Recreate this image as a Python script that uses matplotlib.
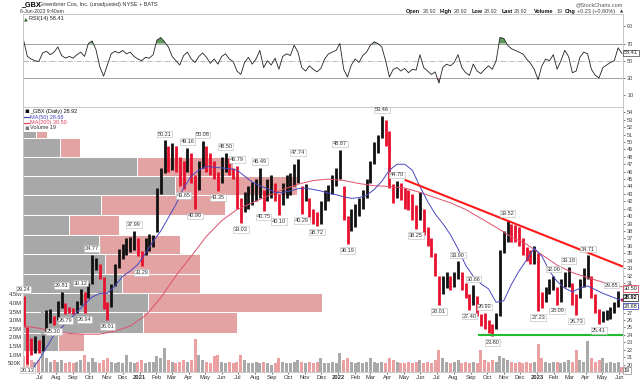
import numpy as np
import pandas as pd
import matplotlib
matplotlib.use("Agg")
import matplotlib.pyplot as plt

plt.rcParams['font.family'] = ['Liberation Sans', 'DejaVu Sans']

# ---------------- data (weekly bars) ----------------
week_high = [29.24, 25.0, 23.6, 23.8, 23.3, 24.0, 27.3, 27.5, 26.6, 28.6,
             29.81, 28.3, 27.8, 27.6, 28.6, 30.12, 29.8, 31.0, 34.77, 34.4,
             33.6, 31.8, 28.5, 30.8, 33.5, 35.6, 36.3, 37.0, 37.2, 37.99,
             37.0, 35.3, 37.0, 37.6, 37.5, 43.8, 46.5, 50.21, 49.4, 49.8,
             49.5, 48.0, 47.5, 49.16, 48.5, 45.5, 47.5, 50.08, 49.4, 48.5,
             47.5, 46.0, 48.0, 48.50, 47.8, 46.5, 46.79, 42.5, 43.3, 44.0,
             44.6, 45.0, 46.49, 43.5, 45.0, 45.5, 44.5, 43.0, 44.5, 45.5,
             45.8, 47.0, 47.74, 44.0, 44.3, 42.5, 41.0, 40.5, 42.0, 43.5,
             44.2, 45.5, 46.5, 48.87, 44.0, 40.0, 41.0, 41.6, 42.5, 43.5,
             45.0, 47.5, 50.0, 51.0, 53.46, 53.0, 51.5, 44.3, 44.70, 44.5,
             43.8, 43.5, 43.0, 41.5, 43.2, 41.0, 38.5, 37.0, 35.0, 32.0,
             32.0, 32.5, 32.0, 32.5, 33.90, 32.5, 31.0, 29.5, 30.66, 29.3,
             26.8, 26.90, 26.0, 25.5, 27.0, 35.5, 38.0, 39.52, 39.0, 38.8,
             38.5, 37.0, 35.8, 35.5, 36.0, 35.0, 29.8, 30.5, 31.5, 32.00,
             30.5, 31.5, 32.5, 33.18, 31.0, 29.5, 31.5, 33.0, 34.71, 32.0,
             29.5, 27.5, 27.2, 27.3, 27.8, 28.5, 29.85, 29.0]
week_low = [25.0, 20.13, 21.3, 21.5, 21.6, 21.8, 24.5, 25.6, 25.30, 26.0,
            27.6, 26.79, 26.9, 26.85, 27.0, 28.0, 26.94, 29.0, 30.8, 32.8,
            31.5, 27.5, 26.01, 27.8, 30.6, 33.0, 34.2, 34.8, 35.2, 35.5,
            34.6, 33.29, 34.8, 35.3, 35.8, 37.8, 43.0, 45.8, 46.0, 46.2,
            46.0, 44.0, 43.65, 46.0, 44.5, 40.90, 43.5, 46.5, 46.0, 45.5,
            45.0, 43.35, 44.5, 46.0, 45.5, 45.0, 41.0, 39.03, 40.5, 41.0,
            41.5, 42.0, 42.5, 40.75, 42.0, 42.5, 42.0, 40.10, 41.5, 42.5,
            42.8, 44.0, 44.5, 40.29, 42.0, 39.5, 39.0, 38.72, 39.0, 40.8,
            42.0, 43.0, 44.0, 45.0, 39.5, 36.19, 38.0, 38.5, 40.0, 41.0,
            42.5, 44.5, 47.0, 48.5, 50.5, 49.5, 43.8, 41.8, 42.5, 42.2,
            41.0, 40.8, 39.5, 38.25, 39.5, 37.5, 36.0, 34.5, 32.0, 28.01,
            29.5, 30.3, 30.0, 30.5, 31.5, 30.0, 29.0, 27.40, 28.0, 26.6,
            25.2, 24.8, 24.3, 23.80, 24.8, 26.5, 35.0, 36.5, 36.5, 36.5,
            36.0, 34.8, 34.0, 33.5, 33.5, 27.23, 27.6, 28.5, 29.5, 30.0,
            28.09, 28.5, 30.5, 30.5, 28.0, 26.73, 29.0, 30.5, 31.5, 29.0,
            27.0, 25.41, 25.8, 26.0, 26.2, 27.0, 27.8, 28.6]
volume_m = [0.9, 0.8, 0.7, 0.6, 0.7, 4.3, 0.8, 0.6, 0.7, 0.6,
            0.7, 0.5, 0.6, 0.5, 0.6, 0.7, 1.0, 0.6, 0.8, 0.6,
            0.5, 0.7, 0.8, 0.6, 0.5, 0.6, 0.5, 1.0, 0.6, 0.5,
            0.6, 0.7, 0.5, 0.6, 0.6, 0.9, 0.8, 1.4, 0.7, 0.6,
            0.5, 0.6, 0.7, 0.6, 0.7, 1.9, 1.0, 0.7, 0.6, 0.5,
            0.9, 1.0, 0.6, 0.5, 0.6, 0.5, 0.6, 1.0, 0.7, 0.5,
            0.5, 0.6, 0.5, 0.6, 0.5, 0.4, 0.5, 0.8, 0.6, 0.5,
            0.5, 0.6, 0.7, 0.6, 0.5, 0.6, 0.5, 0.6, 0.8, 0.5,
            0.5, 0.6, 0.5, 1.1, 0.7, 0.8, 0.6, 0.5, 0.6, 0.5,
            0.6, 0.8, 0.6, 0.5, 0.6, 0.5, 0.8, 0.7, 0.6, 0.5,
            0.5, 0.6, 0.5, 0.6, 0.7, 0.5, 0.6, 0.5, 0.7, 1.3,
            0.8, 0.6, 0.5, 0.6, 0.7, 0.5, 0.6, 0.5, 0.6, 0.5,
            1.3, 0.7, 0.6, 0.7, 0.6, 0.9, 0.8, 0.7, 0.6, 0.5,
            0.6, 0.5, 0.6, 0.5, 0.6, 1.6, 0.8, 0.6, 0.5, 0.6,
            0.6, 0.5, 0.6, 0.7, 0.6, 1.3, 0.7, 0.6, 1.8, 0.8,
            0.6, 0.7, 0.8, 0.5, 0.6, 0.5, 0.6, 0.3]
rsi = [74, 55, 52, 50, 49, 59, 61, 57, 60, 66,
       56, 53, 55, 53, 57, 60, 55, 70, 73, 63,
       43, 32, 45, 58, 61, 59, 62, 58, 60, 55,
       52, 50, 54, 53, 57, 74, 77, 72, 66, 55,
       50, 45, 56, 60, 52, 48, 55, 59, 54, 47,
       52, 46, 55, 58, 52, 49, 38, 34, 48, 54,
       46, 52, 62, 42, 50, 45, 53, 40, 55, 58,
       56, 68, 60, 42, 38, 44, 40, 37, 41, 52,
       58, 60, 62, 70, 40, 31, 45, 52, 48, 56,
       60, 68, 72, 70, 66, 50, 31, 40, 42, 38,
       41, 36, 40, 39, 57, 42, 38, 34, 37, 24,
       42, 46, 44, 48, 57, 42, 36, 33, 46, 38,
       35, 40, 44, 40, 50, 77, 76, 68, 64, 62,
       60, 58, 52, 47, 40, 28, 44, 52, 50, 57,
       40, 50, 62, 55, 36, 38, 54, 60, 58, 40,
       33, 30, 42, 45, 48, 50, 65, 58.41]
# moving averages sampled every 2 weeks (MA50) and every 4 weeks (MA200)
ma50 = [18.0, 19.2, 20.6, 22.3, 24.0, 25.0, 26.0, 27.1, 28.1, 29.1,
        29.6, 29.6, 30.6, 31.9, 32.6, 33.5, 35.0, 36.6, 38.0, 39.8,
        41.6, 43.8, 45.4, 46.2, 46.7, 46.6, 46.5, 46.4, 46.2, 45.4,
        44.6, 44.1, 43.7, 43.2, 43.2, 43.4, 43.7, 43.8, 43.6, 43.4,
        43.1, 42.9, 42.6, 42.4, 42.5, 42.8, 43.6, 44.7, 46.2, 47.0,
        47.0, 46.2, 44.0, 42.0, 40.3, 39.0, 37.5, 35.6, 33.4, 31.9,
        30.9, 30.2, 28.4, 28.6, 30.8, 32.6, 34.1, 35.7, 34.6, 32.6,
        31.2, 30.3, 29.8, 30.3, 30.6, 30.1, 29.6, 29.2, 28.8, 28.68]
ma200 = [25.2, 24.9, 24.4, 24.2, 24.1, 24.1, 24.5, 25.2, 26.6, 29.0,
         32.0, 34.6, 37.3, 39.4, 40.9, 41.8, 42.7, 43.6, 44.3, 44.8,
         45.0, 44.8, 44.4, 44.1, 44.0, 43.8, 43.2, 42.5, 41.8, 40.9,
         39.7, 38.5, 37.2, 36.2, 34.8, 33.4, 32.4, 31.7, 31.1, 30.6, 30.50]
trend_dates = ['2022-05-03', '2023-06-08']
trend_vals = [44.9, 33.2]
support_dates = ['2022-09-14', '2023-06-08']
support_vals = [23.95, 23.95]
# volume-by-price bands
vbp_top = [51.48, 50.58, 47.98, 45.42, 42.79, 40.16, 37.46, 34.90, 32.27, 29.65, 27.02, 24.32]
vbp_bot = [50.58, 47.98, 45.42, 42.79, 40.16, 37.46, 34.90, 32.27, 29.65, 27.02, 24.32, 21.83]
vbp_up_vol = [2.6, 7.4, 22.8, 30.4, 15.6, 9.2, 15.2, 16.4, 19.8, 25.0, 24.0, 7.0]
vbp_down_vol = [2.2, 4.0, 19.2, 24.4, 24.8, 10.0, 16.2, 19.0, 15.6, 34.8, 18.8, 5.2]
# labelled swing points (week index)
hi_idx = [0, 10, 15, 18, 29, 37, 43, 47, 53, 56, 62, 72, 83, 94, 98, 114, 118, 121, 127, 139, 143, 148, 156]
lo_idx = [1, 8, 11, 16, 22, 31, 42, 45, 51, 57, 63, 67, 73, 77, 85, 103, 109, 117, 123, 135, 140, 145, 151]
rsi_ticks = [10, 30, 50, 70, 90]
vol_ticks = [0.5, 1.0, 1.5, 2.0, 2.5, 3.0, 3.5, 4.0, 4.5]
vol_tick_labels = ['500K', '1.0M', '1.5M', '2.0M', '2.5M', '3.0M', '3.5M', '4.0M', '4.5M']
price_ticks = list(range(20, 55))
hidden_price_labels = [28, 29, 30]   # covered by the value boxes in the reference

# ---------------- figure ----------------
W, H = 640, 380
fig = plt.figure(figsize=(6.4, 3.8), dpi=100)
fig.patch.set_facecolor('white')

def fx(x):
    return x / W

def fy(y):
    return 1 - y / H

L, R = 23, 623
x0, x1 = pd.Timestamp('2020-06-01'), pd.Timestamp('2023-06-08')
dates = pd.date_range(end='2023-06-06', periods=len(week_high), freq='7D')
hi = np.array(week_high)
lo = np.array(week_low)
mid = (hi + lo) / 2
up = np.r_[False, mid[1:] >= mid[:-1]]
RED = '#e8112d'
GRID = '#c8c8c8'

ma50_idx = list(range(0, 157, 2)) + [157]
ma200_idx = list(range(0, 157, 4)) + [157]

# ---- RSI panel ----
ax_r = fig.add_axes([fx(L), fy(107), (R - L) / W, (107 - 14) / H])
r = np.array(rsi, dtype=float)
ax_r.axhline(70, color='#a0a0a0', lw=0.7)
ax_r.axhline(30, color='#a0a0a0', lw=0.7)
ax_r.axhline(50, color='#b0b0b0', lw=0.6, ls='-.')
ax_r.fill_between(dates, r, 70, where=r > 70, interpolate=True, color='#5f9a5f', lw=0)
ax_r.fill_between(dates, r, 30, where=r < 30, interpolate=True, color='#d06a6a', lw=0)
ax_r.plot(dates, r, color='#222222', lw=0.6)
ax_r.set_ylim(-3.9, 104.4)
ax_r.set_xlim(x0, x1)
ax_r.set_xticks([])
ax_r.yaxis.tick_right()
ax_r.set_yticks(rsi_ticks)
ax_r.tick_params(axis='y', labelsize=4, length=1.5, pad=1.5, colors='#444444', width=0.5)
for s in ax_r.spines.values():
    s.set_color(GRID)
    s.set_linewidth(0.7)

# ---- volume by price (bottom layer) ----
pos = [fx(L), fy(372), (R - L) / W, (372 - 107) / H]
ax_v = fig.add_axes(pos)
bt = np.array(vbp_top)
bb = np.array(vbp_bot)
ax_v.barh((bt + bb) / 2, vbp_up_vol, height=bt - bb, color='#a8a8a8', edgecolor='white', lw=0.7)
ax_v.barh((bt + bb) / 2, vbp_down_vol, left=vbp_up_vol, height=bt - bb,
          color='#e3a3a3', edgecolor='white', lw=0.7)
ax_v.set_xlim(0, 120)
ax_v.set_ylim(19.0, 54.71)
ax_v.axis('off')

# ---- volume ----
ax_vol = fig.add_axes(pos)
ax_vol.patch.set_alpha(0)
ax_vol.bar(dates, volume_m, width=5.5, color=np.where(up, '#a9a9a9', '#eba1a1'), lw=0)
ax_vol.set_ylim(0, 15.36)
ax_vol.set_xlim(x0, x1)
ax_vol.set_xticks([])
ax_vol.set_yticks(vol_ticks)
ax_vol.set_yticklabels(vol_tick_labels)
ax_vol.tick_params(axis='y', length=0, pad=1, labelsize=4.2, colors='#333333')
for s in ax_vol.spines.values():
    s.set_visible(False)

# ---- price ----
ax = fig.add_axes(pos)
ax.patch.set_alpha(0)
ax.vlines(dates, lo, hi, colors=np.where(up, '#111111', RED), lw=2.0)
ax.plot(dates[ma200_idx], ma200, color='#e0506a', lw=0.7)
ax.plot(dates[ma50_idx], ma50, color='#4848c0', lw=0.7)
ax.plot(pd.to_datetime(trend_dates), trend_vals, color='#ff1a1a', lw=1.5, solid_capstyle='butt')
ax.plot(pd.to_datetime(support_dates), support_vals, color='#22bb33', lw=1.5, solid_capstyle='butt')
ax.set_ylim(19.0, 54.71)
ax.set_xlim(x0, x1)
ax.yaxis.tick_right()
ax.set_yticks(price_ticks)
ax.set_yticklabels(['' if v in hidden_price_labels else str(v) for v in price_ticks])
ax.tick_params(axis='y', labelsize=4, length=1.5, pad=1.5, colors='#444444', width=0.5)
months = pd.date_range('2020-07-01', '2023-06-01', freq='MS')
ax.set_xticks(months)
ax.set_xticklabels([m.strftime('%Y') if m.month == 1 else m.strftime('%b') for m in months])
for t, m in zip(ax.get_xticklabels(), months):
    if m.month == 1:
        t.set_fontweight('bold')
ax.tick_params(axis='x', labelsize=4.2, length=1.5, pad=0.8, colors='#333333', width=0.5)
for s in ax.spines.values():
    s.set_color(GRID)
    s.set_linewidth(0.7)

box = dict(boxstyle='square,pad=0.15', fc='white', ec='#b8b8b8', lw=0.4)
for i in hi_idx:
    dx = -5 if i == hi_idx[-1] else 0
    ax.annotate(f'{week_high[i]:.2f}', (dates[i], week_high[i]), xytext=(dx, 4.6),
                textcoords='offset points', ha='center', va='center', fontsize=4,
                color='#333333', bbox=box, annotation_clip=False)
for i in lo_idx:
    ax.annotate(f'{week_low[i]:.2f}', (dates[i], week_low[i]), xytext=(0, -4.6),
                textcoords='offset points', ha='center', va='center', fontsize=4,
                color='#333333', bbox=box, annotation_clip=False)

# ---- header texts ----
fig.text(fx(21), fy(4.5), '_GBX', fontsize=5.2, fontweight='bold', va='center')
fig.text(fx(39), fy(4.5), 'Greenbrier Cos, Inc. (unadjusted) NYSE + BATS', fontsize=4, va='center', color='#333333')
fig.text(fx(20), fy(11.5), '6-Jun-2023 9:40am', fontsize=3.6, va='center', color='#333333')
fig.text(fx(623), fy(4.5), '@StockCharts.com', fontsize=4, ha='right', va='center', color='#555555')
parts = [(406, 'Open', True), (423, '28.92', False), (440, 'High', True), (454, '28.92', False),
         (472, 'Low', True), (484, '28.92', False), (502, 'Last', True), (514, '28.92', False),
         (534, 'Volume', True), (557, '19', False), (565, 'Chg', True), (577, '+0.23 (+0.80%)', False)]
for px, s, b in parts:
    fig.text(fx(px), fy(11.5), s, fontsize=4, va='center', fontweight='bold' if b else 'normal',
             color='#111111' if b else '#444444')
fig.text(fx(620), fy(11.5), '\u25b2', fontsize=3, va='center', color='#333333', family='DejaVu Sans')

# RSI label
fig.text(fx(23.5), fy(18.5), '\u25b2', fontsize=3.5, va='center', color='#3a6a3a', family='DejaVu Sans')
fig.text(fx(29), fy(18.5), 'RSI(14) 58.41', fontsize=4, va='center', color='#222222')
fig.text(fx(624), fy(53), '58.41', fontsize=4, va='center', color='#222222',
         bbox=dict(boxstyle='square,pad=0.15', fc='white', ec='#444444', lw=0.5))

# price legend
fig.text(fx(24), fy(111), '\u25aa', fontsize=5, va='center', color='#111111', family='DejaVu Sans')
fig.text(fx(30), fy(111), '_GBX (Daily) 28.92', fontsize=4, va='center', color='#111111')
fig.add_artist(plt.Line2D([fx(24), fx(29)], [fy(117), fy(117)], color='#4848c0', lw=0.9))
fig.text(fx(30), fy(117), 'MA(50) 28.68', fontsize=4, va='center', color='#4848c0')
fig.add_artist(plt.Line2D([fx(24), fx(29)], [fy(122.5), fy(122.5)], color='#e0405a', lw=0.9))
fig.text(fx(30), fy(122.5), 'MA(200) 30.50', fontsize=4, va='center', color='#e0405a')
fig.text(fx(24), fy(128), '\u25aa', fontsize=5, va='center', color='#777777', family='DejaVu Sans')
fig.text(fx(30), fy(128), 'Volume 19', fontsize=4, va='center', color='#333333')

# right-side value boxes
fig.text(fx(624), fy(288.5), '30.50', fontsize=4, va='center', color='#222222',
         bbox=dict(boxstyle='square,pad=0.1', fc='white', ec='#e0405a', lw=0.6))
fig.text(fx(624), fy(297.5), '28.92', fontsize=4, va='center', color='#111111', fontweight='bold',
         bbox=dict(boxstyle='square,pad=0.1', fc='white', ec='#333333', lw=0.6))
fig.text(fx(624), fy(306.3), '28.68', fontsize=4, va='center', color='#222222',
         bbox=dict(boxstyle='square,pad=0.1', fc='white', ec='#4848c0', lw=0.6))
fig.text(fx(624), fy(370.5), '19', fontsize=4, va='center', color='#222222',
         bbox=dict(boxstyle='square,pad=0.1', fc='white', ec='#888888', lw=0.5))

fig.savefig('out.png', dpi=100, facecolor='white')
